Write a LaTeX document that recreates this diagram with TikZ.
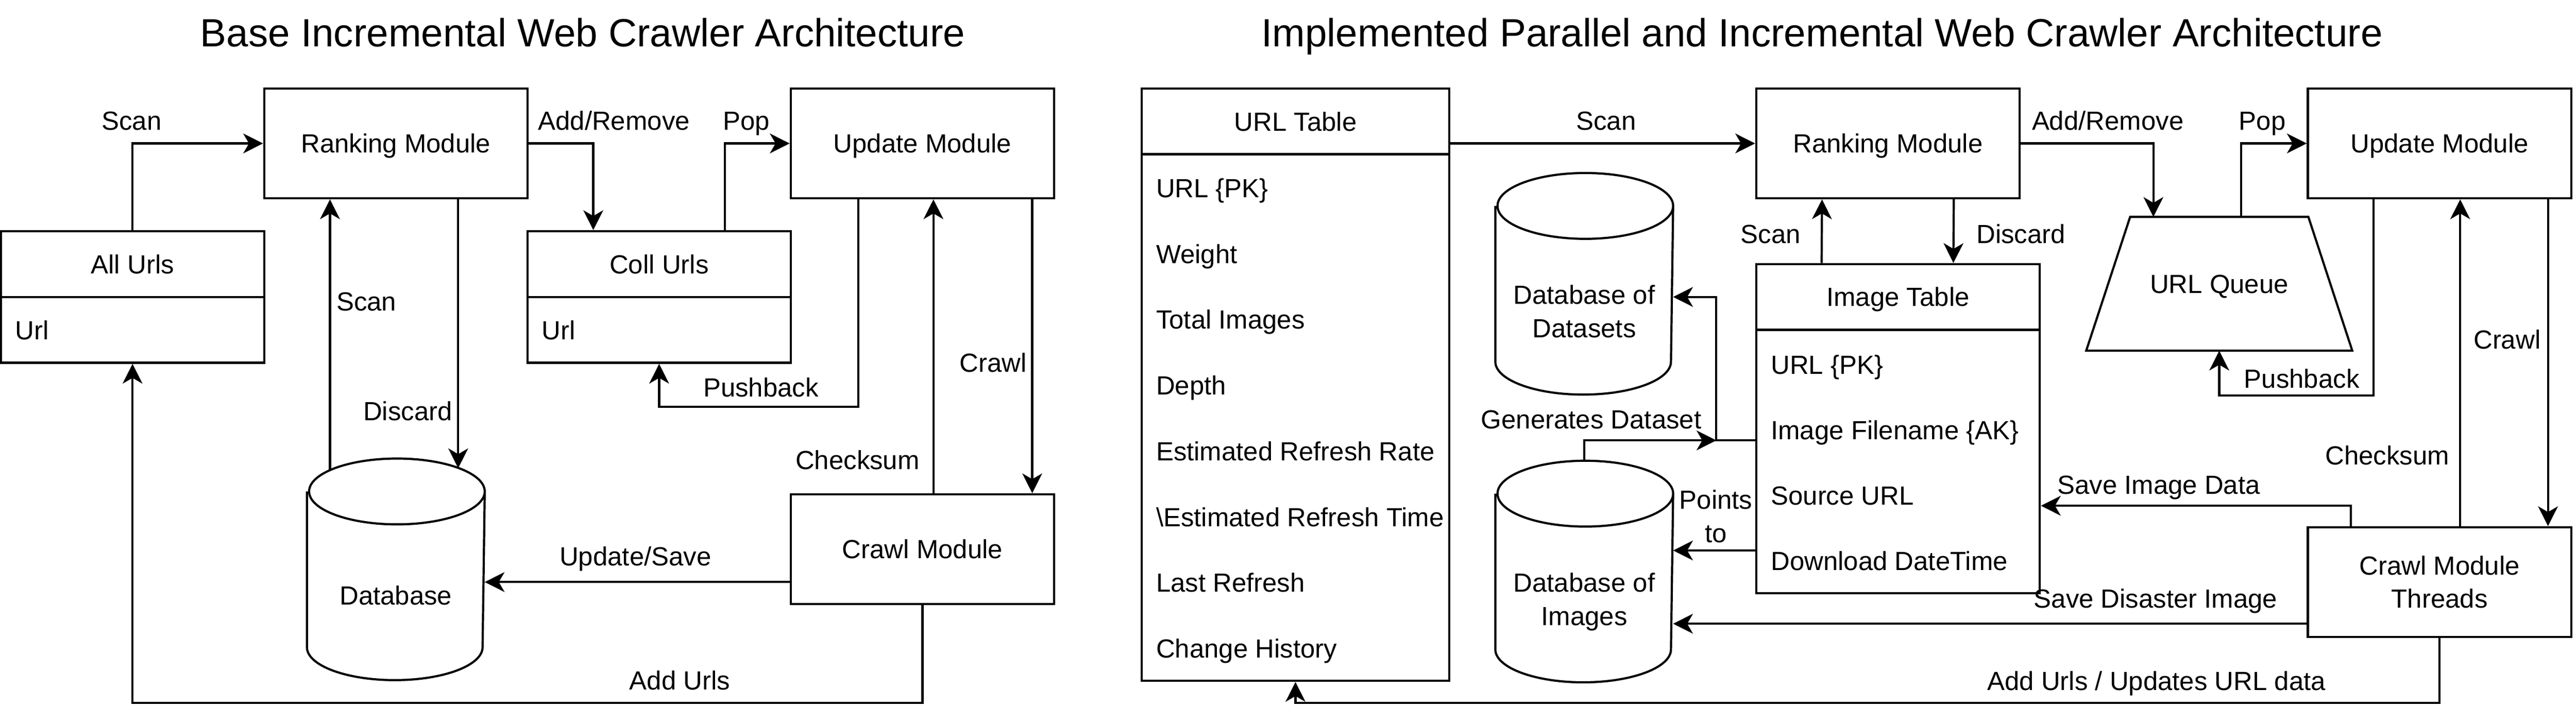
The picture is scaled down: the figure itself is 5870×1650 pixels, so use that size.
\documentclass[tikz,border=0pt]{standalone}
\usepackage{fontspec}
\setmainfont{Liberation Sans}
\usetikzlibrary{arrows.meta}

\newcommand{\lblfont}{\fontsize{17}{21.6}\selectfont}
\newcommand{\ttlfont}{\fontsize{25.5}{30}\selectfont}
% outline of a database drum round a named node
\newcommand{\drawstore}[1]{\draw ([yshift=-0.75cm]#1.north west) -- ([yshift=0.75cm]#1.south west)
    arc[start angle=180,end angle=360,x radius=2cm,y radius=0.75cm] -- ([yshift=-0.75cm]#1.north east)
    arc[start angle=0,end angle=180,x radius=2cm,y radius=0.75cm]
    arc[start angle=180,end angle=360,x radius=2cm,y radius=0.75cm];}
% outline of the queue, wider at the bottom
\newcommand{\drawqueue}[1]{\draw (#1.south west) -- ([xshift=1cm]#1.north west)
    -- ([xshift=-1cm]#1.north east) -- (#1.south east) -- cycle;}

\begin{document}
\begin{tikzpicture}[x=0.01cm,y=-0.01cm,line width=1.4pt,
        >={Stealth[length=0.45cm,width=0.45cm,inset=0.13cm]},
        module/.style={draw,minimum width=6cm,minimum height=2.5cm,inner sep=0pt,font=\lblfont},
        oneline/.style={text height=12.2pt,text depth=0pt},
        tblhead/.style={draw,minimum height=1.5cm,inner sep=0pt,font=\lblfont,oneline},
        tblbody/.style={draw,inner sep=0pt},
        datastore/.style={minimum width=4cm,minimum height=5cm,inner sep=0pt},
        queuebox/.style={minimum width=6.01cm,minimum height=3cm,inner sep=0pt,font=\lblfont,oneline},
        lbl/.style={font=\lblfont,inner sep=0pt,anchor=base},
        dblbl/.style={font=\lblfont,inner sep=0pt,align=center},
        rowtxt/.style={font=\lblfont,inner sep=0pt,anchor=base west},
        ttl/.style={font=\ttlfont,inner sep=0pt,anchor=base}]
    \useasboundingbox (0,0) rectangle (5870,1650);

    % base architecture
    \node[ttl] (ttlbase) at (1328,106) {Base Incremental Web Crawler Architecture};
    \node[module,oneline] (rank) at (902,327) {Ranking Module};
    \node[module,oneline] (update) at (2102,327) {Update Module};
    \node[module,oneline] (crawl) at (2102,1252) {Crawl Module};
    \node[tblhead,minimum width=6cm] (allurls) at (302,602) {All Urls};
    \node[tblbody,minimum width=6cm,minimum height=1.5cm] (allurlsbody) at (302,752) {};
    \node[rowtxt] (allurlsurl) at (32,774) {Url};
    \node[tblhead,minimum width=6cm] (collurls) at (1502,602) {Coll Urls};
    \node[tblbody,minimum width=6cm,minimum height=1.5cm] (collurlsbody) at (1502,752) {};
    \node[rowtxt] (collurlsurl) at (1232,774) {Url};
    \node[datastore,label={[dblbl,yshift=-0.59cm]center:Database}] (db) at (902,1298) {};
    \drawstore{db}

    \draw[->] (allurls.north) |- (rank.west) node[lbl] at (300,297) {Scan};
    \draw[->] (rank.east) -| ([xshift=-1.5cm]collurls.north) node[lbl] at (1399,297) {Add/Remove};
    \draw[->] ([xshift=1.5cm]collurls.north) |- (update.west) node[lbl] at (1701,297) {Pop};
    \draw[->] ([xshift=-1.5cm,yshift=-0.25cm]db.north) -- ([xshift=-1.5cm]rank.south)
        node[lbl] at (835,709) {Scan};
    \draw[->] ([xshift=1.42cm]rank.south) -- ([xshift=1.42cm,yshift=-0.22cm]db.north)
        node[lbl] at (929,959) {Discard};
    \draw[->] ([xshift=-1.46cm]update.south) |- (collurlsbody.south |- 0,927) -- (collurlsbody.south)
        node[lbl] at (1734,905) {Pushback};
    \draw[->] ([xshift=0.25cm]crawl.north) -- ([xshift=0.25cm]update.south)
        node[lbl] at (1954,1070) {Checksum};
    \draw[->] ([xshift=2.5cm]update.south) -- ([xshift=2.5cm]crawl.north)
        node[lbl] at (2263,848) {Crawl};
    \draw[->] (crawl.west |- 0,1327) -- (db.east |- 0,1327) node[lbl] at (1448,1290) {Update/Save};
    \draw[->] (crawl.south) -- (crawl.south |- 0,1602) -| (allurlsbody.south)
        node[lbl] at (1549,1572) {Add Urls};

    % implemented architecture
    \node[ttl] (ttlimpl) at (4152,106) {Implemented Parallel and Incremental Web Crawler Architecture};
    \node[tblhead,minimum width=7cm] (urlhead) at (2952,277) {URL Table};
    \node[tblbody,minimum width=7cm,minimum height=12cm] (urlbody) at (2952,952) {};
    \node[rowtxt] (urlpk) at (2632,450) {URL \{PK\}};
    \node[rowtxt] (urlweight) at (2632,600) {Weight};
    \node[rowtxt] (urltotal) at (2632,750) {Total Images};
    \node[rowtxt] (urldepth) at (2632,900) {Depth};
    \node[rowtxt] (urlrate) at (2632,1050) {Estimated Refresh Rate};
    \node[rowtxt] (urltime) at (2632,1200) {\textbackslash Estimated Refresh Time};
    \node[rowtxt] (urllast) at (2632,1350) {Last Refresh};
    \node[rowtxt] (urlhist) at (2632,1500) {Change History};

    \node[module,oneline] (rank2) at (4302,327) {Ranking Module};
    \node[module,oneline] (update2) at (5559,327) {Update Module};
    \node[module,align=center] (crawl2) at (5559,1327) {Crawl Module\\Threads};
    \node[queuebox] (queue) at (5057,647) {URL Queue};
    \drawqueue{queue}

    \node[tblhead,minimum width=6.46cm] (imghead) at (4325,677) {Image Table};
    \node[tblbody,minimum width=6.46cm,minimum height=6cm] (imgbody) at (4325,1052) {};
    \node[rowtxt] (imgpk) at (4033,853) {URL \{PK\}};
    \node[rowtxt] (imgfile) at (4033,1002) {Image Filename \{AK\}};
    \node[rowtxt] (imgsrc) at (4033,1151) {Source URL};
    \node[rowtxt] (imgdate) at (4033,1300) {Download DateTime};

    \node[datastore,label={[dblbl,yshift=-0.63cm]center:{Database of\\Datasets}}] (dbsets) at (3610,647) {};
    \drawstore{dbsets}
    \node[datastore,label={[dblbl,yshift=-0.695cm]center:{Database of\\Images}}] (dbimg) at (3610,1303) {};
    \drawstore{dbimg}
    \coordinate (gen) at (3911,1004);

    \draw[->] (urlhead.east |- rank2.west) -- (rank2.west) node[lbl] at (3660,297) {Scan};
    \draw[->] (rank2.east) -| ([xshift=-1.5cm]queue.north) node[lbl] at (4803,297) {Add/Remove};
    \draw[->] ([xshift=0.5cm]queue.north) |- (update2.west) node[lbl] at (5155,297) {Pop};
    \draw[->] ([xshift=-1.74cm]imghead.north) -- ([xshift=-1.5cm]rank2.south)
        node[lbl] at (4035,555) {Scan};
    \draw[->] ([xshift=1.5cm]rank2.south) -- ([xshift=1.26cm]imghead.north)
        node[lbl] at (4605,555) {Discard};
    \draw[->] ([xshift=-1.5cm]update2.south) |- (queue.south |- 0,902) -- (queue.south)
        node[lbl] at (5245,885) {Pushback};
    \draw[->] ([xshift=0.47cm]crawl2.north) -- ([xshift=0.47cm]update2.south)
        node[lbl] at (5440,1060) {Checksum};
    \draw[->] ([xshift=2.47cm]update2.south) -- ([xshift=2.47cm]crawl2.north)
        node[lbl] at (5713,795) {Crawl};
    \draw[->] ([xshift=-2.02cm]crawl2.north) |- (imgbody.east |- 0,1153)
        node[lbl] at (4919,1127) {Save Image Data};
    \draw[->] (crawl2.west |- 0,1422) -- (dbimg.east |- 0,1422)
        node[lbl] at (4912,1386) {Save Disaster Image};
    \draw[->] (crawl2.south) -- (crawl2.south |- 0,1602) -| (urlbody.south)
        node[lbl] at (4914,1574) {Add Urls / Updates URL data};
    \draw[->] (imgbody.west |- gen) -- (gen) |- (dbsets.east |- 0,677);
    \draw[->] (dbimg.north) |- (gen) node[lbl] at (3626,977) {Generates Dataset};
    \draw[->] (imgbody.west |- 0,1255) -- (dbimg.east |- 0,1255)
        node[dblbl] at (3910,1177) {Points\\to};

\end{tikzpicture}
\end{document}
